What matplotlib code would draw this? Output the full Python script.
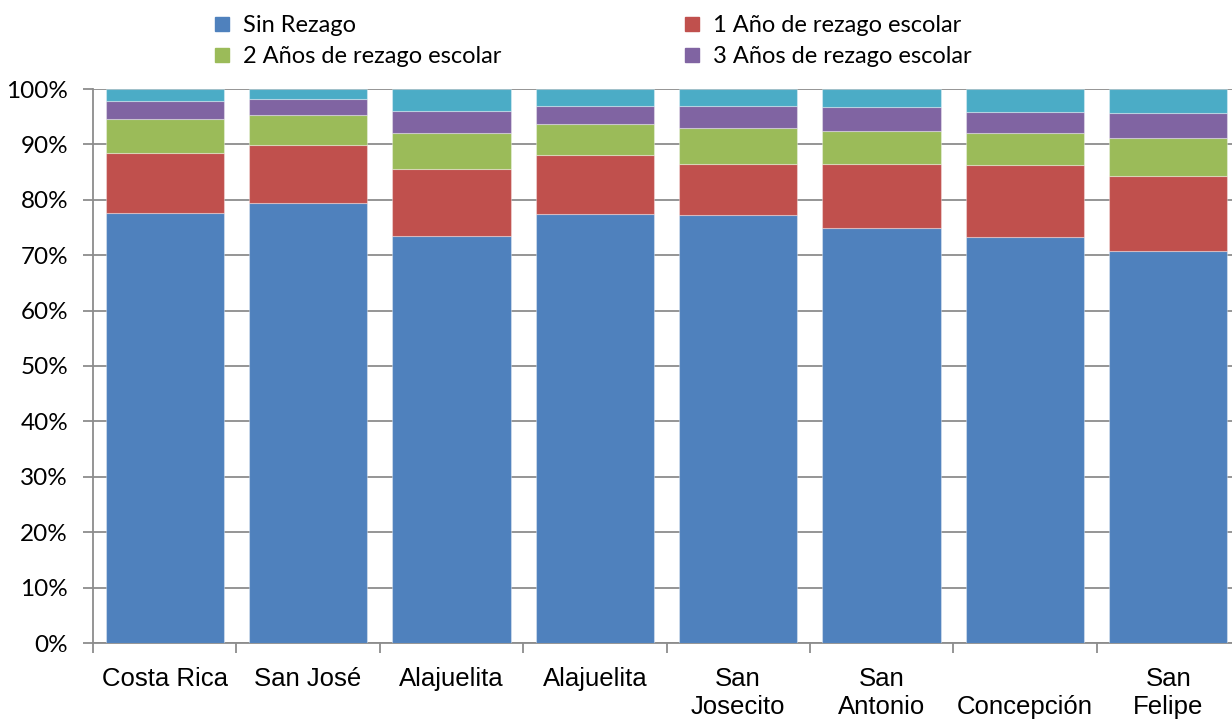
import matplotlib
matplotlib.use("Agg")
import matplotlib.pyplot as plt
from matplotlib.lines import Line2D
from matplotlib.ticker import FixedLocator, PercentFormatter
import numpy as np

categories = ["Costa Rica", "San José", "Alajuelita", "Alajuelita", "San\nJosecito",
              "San\nAntonio", "\nConcepción", "San\nFelipe"]
sin_rezago = [77.6, 79.5, 73.4, 77.5, 77.3, 75.0, 73.2, 70.8]
un_anio = [10.9, 10.4, 12.2, 10.5, 9.2, 11.5, 13.0, 13.5]
dos_anios = [6.0, 5.4, 6.5, 5.7, 6.5, 6.0, 5.8, 6.9]
tres_anios = [3.4, 2.9, 4.0, 3.2, 4.0, 4.2, 3.8, 4.4]
mas_anios = [2.1, 1.8, 3.9, 3.1, 3.0, 3.3, 4.2, 4.4]

series = [
    ("Sin Rezago", sin_rezago, "#4F81BD"),
    ("1 Año de rezago escolar", un_anio, "#C0504D"),
    ("2 Años de rezago escolar", dos_anios, "#9BBB59"),
    ("3 Años de rezago escolar", tres_anios, "#8064A2"),
    ("4 o más", mas_anios, "#4BACC6"),
]

fig = plt.figure(figsize=(12.32, 7.19), dpi=100)
ax = fig.add_axes([93 / 1232, (719 - 643) / 719, (1240 - 93) / 1232, 554 / 719])

x = np.arange(len(categories))
bottom = np.zeros(len(categories))
for name, vals, col in series:
    v = np.array(vals, dtype=float)
    ax.bar(x, v, bottom=bottom, width=0.824, color=col, edgecolor=(1, 1, 1, 0.35),
           linewidth=0.8, zorder=3, label=name)
    bottom += v

ax.set_xlim(-0.5, len(categories) - 0.5)
ax.set_ylim(0, 100)
ax.set_yticks(np.arange(0, 101, 10))
ax.yaxis.set_major_formatter(PercentFormatter(decimals=0))
ax.yaxis.grid(True, color="#8C8C8C", linewidth=1.3, zorder=0)
ax.set_axisbelow(True)

ax.set_xticks(x)
ax.set_xticklabels(categories, fontfamily="Liberation Sans", fontsize=18.5, linespacing=1.22)
ax.xaxis.set_minor_locator(FixedLocator(np.arange(-0.5, len(categories), 1.0)))
ax.tick_params(axis="x", which="major", length=0, pad=17.5)
ax.tick_params(axis="x", which="minor", length=7, width=1.3, color="#8C8C8C", direction="out")
ax.tick_params(axis="y", length=7, width=1.3, color="#8C8C8C", pad=11, labelsize=17.5)
for lab in ax.get_yticklabels():
    lab.set_fontfamily("Lato")

for s in ["top", "right"]:
    ax.spines[s].set_visible(False)
for s in ["left", "bottom"]:
    ax.spines[s].set_color("#8C8C8C")
    ax.spines[s].set_linewidth(1.3)

def handle(col):
    return Line2D([], [], linestyle="none", marker="s", markersize=10, color=col)

col1 = [series[0], series[2]]
col2 = [series[1], series[3]]
for items, xa in [(col1, 212 / 1232), (col2, 682 / 1232)]:
    fig.legend([handle(c) for _, _, c in items], [n for n, _, _ in items],
               loc="upper left", bbox_to_anchor=(xa, 1 - 15 / 719), frameon=False,
               prop={"family": "Lato", "size": 17}, handlelength=0.85, handletextpad=0.45,
               borderpad=0, borderaxespad=0, labelspacing=0.42)

fig.savefig("out.png", dpi=100)
